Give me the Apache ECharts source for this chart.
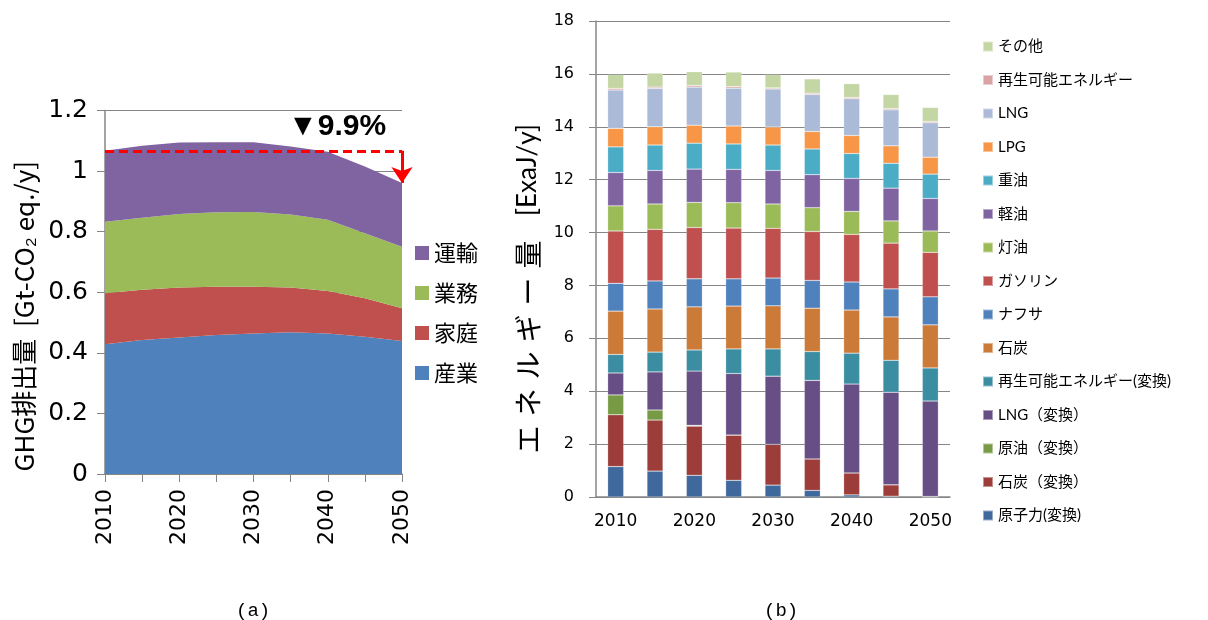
<!DOCTYPE html>
<html>
<head>
<meta charset="utf-8">
<script src="https://cdn.jsdelivr.net/npm/echarts@6/dist/echarts.min.js"></script>
<style>
html, body { margin: 0; background: #fff; }
#main { width: 1208px; height: 620px; }
</style>
</head>
<body>
<div id="main"></div>
<script>
var years = ["2010", "2015", "2020", "2025", "2030", "2035", "2040", "2045", "2050"];

// (a) GHG排出量 [Gt-CO2 eq./y]
var sangyo = [0.428, 0.442, 0.451, 0.459, 0.464, 0.468, 0.464, 0.453, 0.439];
var katei  = [0.169, 0.166, 0.165, 0.159, 0.154, 0.148, 0.140, 0.127, 0.108];
var gyomu  = [0.236, 0.238, 0.242, 0.246, 0.247, 0.241, 0.235, 0.215, 0.203];
var unyu   = [0.234, 0.238, 0.236, 0.231, 0.230, 0.224, 0.225, 0.220, 0.211];
var ghgTicks = [0, 0.2, 0.4, 0.6, 0.8, 1.0, 1.2];

// (b) エネルギー量 [ExaJ/y]  (下から順)
var genshiryokuH = [1.15, 0.98, 0.82, 0.63, 0.45, 0.25, 0.08, 0.03, 0];
var sekitanH     = [1.96, 1.93, 1.86, 1.71, 1.54, 1.19, 0.83, 0.43, 0.02];
var genyuH       = [0.75, 0.38, 0.03, 0, 0, 0, 0, 0, 0];
var lngH         = [0.83, 1.44, 2.05, 2.33, 2.58, 2.97, 3.36, 3.50, 3.61];
var saiseiH      = [0.70, 0.75, 0.80, 0.93, 1.03, 1.09, 1.17, 1.21, 1.25];
var sekitan      = [1.64, 1.63, 1.63, 1.62, 1.63, 1.64, 1.63, 1.64, 1.63];
var nafusa       = [1.05, 1.06, 1.06, 1.03, 1.05, 1.05, 1.06, 1.06, 1.06];
var gasorin      = [1.98, 1.95, 1.94, 1.92, 1.88, 1.85, 1.80, 1.73, 1.68];
var touyu        = [0.95, 0.96, 0.95, 0.96, 0.92, 0.90, 0.87, 0.84, 0.81];
var keiyu        = [1.26, 1.27, 1.26, 1.26, 1.27, 1.25, 1.25, 1.24, 1.23];
var juyu         = [0.97, 0.96, 0.98, 0.96, 0.96, 0.97, 0.94, 0.94, 0.92];
var lpg          = [0.70, 0.69, 0.68, 0.68, 0.68, 0.66, 0.68, 0.66, 0.64];
var lng          = [1.45, 1.45, 1.44, 1.43, 1.44, 1.40, 1.39, 1.36, 1.30];
var saisei       = [0.06, 0.05, 0.06, 0.06, 0.04, 0.05, 0.05, 0.05, 0.05];
var sonota       = [0.52, 0.53, 0.52, 0.55, 0.50, 0.54, 0.52, 0.53, 0.53];
var energyTicks = [0, 2, 4, 6, 8, 10, 12, 14, 16, 18];

var jp = "'Noto Sans CJK JP', sans-serif";
var num = "'DejaVu Sans', sans-serif";
var leg = "Lato, 'Noto Sans CJK JP', sans-serif";
var axisGrey = "#868686";

var myChart = echarts.init(document.getElementById("main"));

var first = sangyo[0] + katei[0] + gyomu[0] + unyu[0];
var last = sangyo[8] + katei[8] + gyomu[8] + unyu[8];

function area(name, data, color) {
  return {
    name: name, type: "line", stack: "ghg", xAxisIndex: 0, yAxisIndex: 0,
    data: data, symbol: "none", smooth: false,
    lineStyle: { width: 0 },
    areaStyle: { color: color, opacity: 1 },
    itemStyle: { color: color }
  };
}

function bar(name, data, color) {
  return {
    name: name, type: "bar", stack: "energy", xAxisIndex: 1, yAxisIndex: 1,
    data: data, barWidth: 16,
    itemStyle: { color: color, borderColor: "rgba(255,255,255,0.45)", borderWidth: 0.5 }
  };
}

var a4 = area("運輸", unyu, "#8064A2");
a4.markLine = {
  silent: true,
  symbol: ["none", "none"],
  label: { show: false },
  data: [
    [
      { coord: ["2010", first], lineStyle: { color: "#FF0000", width: 3, type: [9, 5] } },
      { coord: ["2050", first] }
    ],
    [
      { coord: ["2050", first], symbol: "none", lineStyle: { color: "#FF0000", width: 3, type: "solid" } },
      { coord: ["2050", last], symbol: "arrow", symbolSize: [16, 16] }
    ]
  ]
};

var option = {
  animation: false,
  backgroundColor: "#fff",
  title: [
    { text: "(a)", left: 231, top: 596, textStyle: { fontFamily: "'Liberation Mono', monospace", fontWeight: "normal", fontSize: 19, color: "#000" } },
    { text: "(b)", left: 759, top: 596, textStyle: { fontFamily: "'Liberation Mono', monospace", fontWeight: "normal", fontSize: 19, color: "#000" } }
  ],
  graphic: [
    { type: "text", left: 288, top: 112, style: { text: "▼9.9%", font: "bold 30px 'Liberation Sans', sans-serif", fill: "#000" } }
  ],
  legend: [
    {
      data: ["運輸", "業務", "家庭", "産業"],
      orient: "vertical", left: 410, top: 237,
      itemWidth: 14, itemHeight: 14, itemGap: 18,
      icon: "rect",
      textStyle: { fontFamily: jp, fontSize: 22, color: "#000" }
    },
    {
      data: ["その他", "再生可能エネルギー", "LNG", "LPG", "重油", "軽油", "灯油", "ガソリン", "ナフサ", "石炭",
        "再生可能エネルギー(変換)", "LNG（変換）", "原油（変換）", "石炭（変換）", "原子力(変換)"],
      orient: "vertical", left: 977, top: 34,
      itemWidth: 10, itemHeight: 10, itemGap: 18.5,
      icon: "rect",
      textStyle: { fontFamily: leg, fontSize: 15, color: "#000" }
    }
  ],
  grid: [
    { left: 105, right: 806, top: 110.5, bottom: 146 },
    { left: 596, right: 258, top: 21, bottom: 123 }
  ],
  xAxis: [
    {
      gridIndex: 0, type: "category", data: years, boundaryGap: false,
      axisLine: { lineStyle: { color: axisGrey, width: 1.5 } },
      axisTick: { interval: 0, length: 8, lineStyle: { color: axisGrey } },
      axisLabel: { interval: 1, rotate: 90, margin: 15, fontFamily: num, fontSize: 22, color: "#000" }
    },
    {
      gridIndex: 1, type: "category", data: years,
      axisLine: { lineStyle: { color: axisGrey, width: 1.5 } },
      axisTick: { interval: 0, length: 6, lineStyle: { color: axisGrey } },
      axisLabel: { interval: 1, margin: 16, fontFamily: num, fontSize: 17, color: "#000" }
    }
  ],
  yAxis: [
    {
      gridIndex: 0, type: "value", min: ghgTicks[0], max: ghgTicks[ghgTicks.length - 1], interval: 0.2,
      name: "GHG排出量  [Gt-CO₂ eq./y]", nameLocation: "middle", nameGap: 68,
      nameTextStyle: { fontFamily: jp, fontSize: 26, color: "#000", padding: [0, 48, 0, 0] },
      axisLine: { show: true, lineStyle: { color: axisGrey, width: 1.5 } },
      axisTick: { show: true, length: 8, lineStyle: { color: axisGrey } },
      axisLabel: { margin: 17, fontFamily: num, fontSize: 25, color: "#000" },
      splitLine: { show: true, lineStyle: { color: axisGrey, width: 1 } }
    },
    {
      gridIndex: 1, type: "value", min: energyTicks[0], max: energyTicks[energyTicks.length - 1], interval: 2,
      name: "{c|エ}{c|ネ}{c|ル}{c|ギ}{c|ー}{c|量}{s| }{l|[ExaJ/y]}",
      nameLocation: "middle", nameGap: 54,
      nameTextStyle: {
        color: "#000", padding: [0, 64, 0, 0],
        rich: {
          c: { fontFamily: jp, fontSize: 28, width: 37, align: "center", color: "#000" },
          s: { fontSize: 27, width: 20 },
          l: { fontFamily: "Lato, sans-serif", fontSize: 26, color: "#000" }
        }
      },
      axisLine: { show: true, lineStyle: { color: axisGrey, width: 1.5 } },
      axisTick: { show: true, length: 7, lineStyle: { color: axisGrey } },
      axisLabel: { margin: 22, fontFamily: num, fontSize: 16, color: "#000" },
      splitLine: { show: true, lineStyle: { color: axisGrey, width: 1 } }
    }
  ],
  series: [
    area("産業", sangyo, "#4F81BD"),
    area("家庭", katei, "#C0504D"),
    area("業務", gyomu, "#9BBB59"),
    a4,
    bar("原子力(変換)", genshiryokuH, "#3F689C"),
    bar("石炭（変換）", sekitanH, "#9C3D3A"),
    bar("原油（変換）", genyuH, "#779A45"),
    bar("LNG（変換）", lngH, "#674F86"),
    bar("再生可能エネルギー(変換)", saiseiH, "#3B8DA2"),
    bar("石炭", sekitan, "#CC7A38"),
    bar("ナフサ", nafusa, "#4F81BD"),
    bar("ガソリン", gasorin, "#C0504D"),
    bar("灯油", touyu, "#9BBB59"),
    bar("軽油", keiyu, "#8064A2"),
    bar("重油", juyu, "#4BACC6"),
    bar("LPG", lpg, "#F79646"),
    bar("LNG", lng, "#AABAD7"),
    bar("再生可能エネルギー", saisei, "#D9A5A4"),
    bar("その他", sonota, "#C4D6A4")
  ]
};

myChart.setOption(option);
</script>
</body>
</html>
